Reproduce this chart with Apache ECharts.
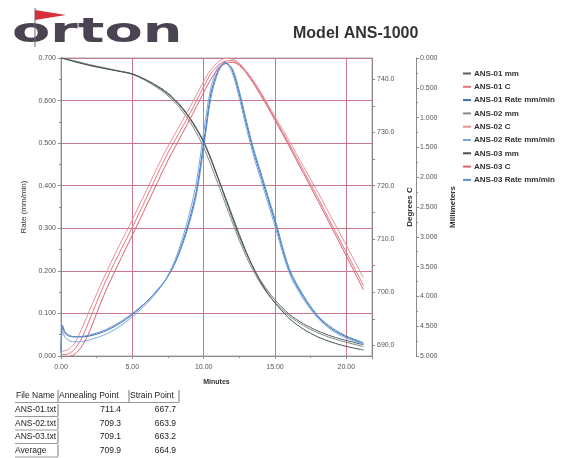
<!DOCTYPE html>
<html>
<head>
<meta charset="utf-8">
<title>Model ANS-1000</title>
<script src="https://cdn.jsdelivr.net/npm/echarts@6.0.0/dist/echarts.min.js"></script>
<style>
  html, body { margin: 0; padding: 0; background: #fff; }
  #chart { width: 569px; height: 458px; }
</style>
</head>
<body>
<div id="chart"></div>
<script>
    "use strict";

    // ---- data ----
    var minutes = [0, 0.1, 0.3, 0.6, 1, 1.5, 2, 3, 4, 5, 6, 7, 7.5, 8, 8.5, 9, 9.5, 10, 10.5, 11,
        11.5, 12, 12.5, 13, 13.5, 14, 14.5, 15, 16, 17, 18, 19, 20, 21, 21.2];

    // Rate (mm/min), left axis
    var rate01 = [0.010, 0.072, 0.056, 0.048, 0.045, 0.045, 0.047, 0.057, 0.074, 0.097, 0.127, 0.163, 0.188, 0.220, 0.265,
        0.320, 0.390, 0.500, 0.615, 0.670, 0.690, 0.672, 0.615, 0.545, 0.480, 0.425, 0.370, 0.315, 0.200, 0.138,
        0.092, 0.063, 0.045, 0.032, 0.029];
    var rate02 = [0.005, 0.057, 0.043, 0.036, 0.033, 0.034, 0.038, 0.049, 0.067, 0.092, 0.123, 0.162, 0.190, 0.226, 0.275,
        0.335, 0.410, 0.525, 0.630, 0.678, 0.688, 0.665, 0.605, 0.535, 0.470, 0.415, 0.360, 0.305, 0.195, 0.133,
        0.089, 0.060, 0.042, 0.030, 0.027];
    var rate03 = [0.008, 0.066, 0.052, 0.046, 0.045, 0.046, 0.049, 0.060, 0.077, 0.100, 0.128, 0.165, 0.187, 0.218, 0.260,
        0.312, 0.380, 0.488, 0.605, 0.665, 0.688, 0.676, 0.622, 0.552, 0.487, 0.432, 0.377, 0.322, 0.206, 0.142,
        0.095, 0.066, 0.047, 0.034, 0.031];

    // Degrees C, first right axis
    var temp01 = [688.3, 688.3, 688.3, 688.5, 689.4, 691.6, 694.8, 701.3, 706.9, 712.2, 717.8, 723.5, 726.2, 728.6, 731.0,
        733.4, 736.0, 738.6, 741.0, 742.6, 743.4, 743.5, 742.8, 741.3, 739.5, 737.3, 735.0, 732.6, 727.8, 722.8,
        717.8, 712.6, 707.5, 702.3, 701.2];
    var temp02 = [688.9, 688.9, 689.0, 689.4, 690.6, 693.4, 696.6, 702.7, 708.3, 713.6, 719.2, 724.8, 727.4, 729.8, 732.2,
        734.6, 737.1, 739.6, 741.8, 743.2, 743.9, 743.8, 743.0, 741.5, 739.7, 737.6, 735.3, 733.0, 728.4, 723.6,
        718.8, 713.8, 708.8, 703.7, 702.7];
    var temp03 = [687.8, 687.8, 687.8, 687.9, 688.4, 690.0, 692.6, 699.4, 705.2, 710.7, 716.3, 722.0, 724.8, 727.3, 729.8,
        732.3, 734.9, 737.5, 740.0, 741.9, 742.9, 743.2, 742.6, 741.1, 739.2, 737.0, 734.7, 732.3, 727.4, 722.3,
        717.2, 712.0, 706.8, 701.5, 700.4];

    // Millimeters, second right axis (inverted)
    var mm01 = [0, 0.005, 0.015, 0.035, 0.06, 0.09, 0.12, 0.17, 0.215, 0.265, 0.375, 0.52, 0.61, 0.72, 0.85,
        1.01, 1.20, 1.42, 1.70, 2.02, 2.35, 2.68, 3.00, 3.28, 3.53, 3.74, 3.91, 4.06, 4.30, 4.46,
        4.58, 4.67, 4.74, 4.80, 4.81];
    var mm02 = [0, 0.004, 0.012, 0.03, 0.05, 0.08, 0.11, 0.16, 0.215, 0.275, 0.39, 0.54, 0.635, 0.75, 0.89,
        1.06, 1.26, 1.50, 1.79, 2.11, 2.43, 2.75, 3.06, 3.34, 3.58, 3.79, 3.96, 4.10, 4.33, 4.49,
        4.61, 4.70, 4.77, 4.83, 4.84];
    var mm03 = [0, 0.006, 0.018, 0.038, 0.065, 0.095, 0.125, 0.175, 0.22, 0.27, 0.37, 0.505, 0.59, 0.70, 0.83,
        0.99, 1.18, 1.40, 1.68, 2.00, 2.32, 2.64, 2.96, 3.26, 3.53, 3.76, 3.95, 4.11, 4.37, 4.55,
        4.68, 4.77, 4.84, 4.89, 4.90];

    var tempLabels = [690, 700, 710, 720, 730, 740];
    var tempTicks = [690, 695, 700, 705, 710, 715, 720, 725, 730, 735, 740];

    // results table
    var tableHeaders = ['File Name', 'Annealing Point', 'Strain Point'];
    var fileNames = ['ANS-01.txt', 'ANS-02.txt', 'ANS-03.txt', 'Average'];
    var annealingPoints = ['711.4', '709.3', '709.1', '709.9'];
    var strainPoints = ['667.7', '663.9', '663.2', '664.9'];

    // ---- helpers ----
    function pairs(values) {
        return minutes.map(function (t, i) { return [t, values[i]]; });
    }

    function lineSeries(name, values, axis, color) {
        return {
            name: name,
            type: 'line',
            yAxisIndex: axis,
            data: pairs(values),
            showSymbol: false,
            smooth: 0.3,
            color: color,
            lineStyle: { width: 1, color: color },
            emphasis: { disabled: true },
            z: 3
        };
    }

    var FONT = 'Liberation Sans';
    var gridColor = '#c9788f';
    var axisColor = '#8a8a8a';
    var cellFont = '8.5px "Liberation Sans"';

    // logo + table drawn as graphic elements
    var graphics = [
        {
            type: 'text', x: 12, y: 50, scaleX: 1.64,
            style: { text: 'orton', font: 'bold 34px "DejaVu Sans"', fill: '#4a4452', verticalAlign: 'bottom' }
        },
        { type: 'line', shape: { x1: 35, y1: 8, x2: 35, y2: 47 }, style: { stroke: '#6a6570', lineWidth: 1 } },
        { type: 'polygon', shape: { points: [[35, 10], [66, 15], [35, 20]] }, style: { fill: '#d8303a' } }
    ];

    var colLeft = [15, 58, 129, 179];
    var rowY = [396, 410, 423.5, 437, 450.5];
    tableHeaders.forEach(function (h, c) {
        graphics.push({
            type: 'text', x: colLeft[c] + 1, y: rowY[0],
            style: { text: h, font: cellFont, fill: '#222', verticalAlign: 'middle' }
        });
        graphics.push({ type: 'line', shape: { x1: colLeft[c + 1], y1: rowY[0] - 6, x2: colLeft[c + 1], y2: rowY[0] + 6 },
            style: { stroke: '#777', lineWidth: 1 } });
    });
    graphics.push({ type: 'line', shape: { x1: 15, y1: rowY[0] + 6.5, x2: 179, y2: rowY[0] + 6.5 }, style: { stroke: '#999', lineWidth: 1 } });
    fileNames.forEach(function (f, r) {
        var y = rowY[r + 1];
        graphics.push({ type: 'text', x: 15, y: y,
            style: { text: f, font: cellFont, fill: '#222', verticalAlign: 'middle' } });
        graphics.push({ type: 'text', x: 121, y: y,
            style: { text: annealingPoints[r], font: cellFont, fill: '#222', align: 'right', verticalAlign: 'middle' } });
        graphics.push({ type: 'text', x: 176, y: y,
            style: { text: strainPoints[r], font: cellFont, fill: '#222', align: 'right', verticalAlign: 'middle' } });
        graphics.push({ type: 'line', shape: { x1: 15, y1: y + 6.5, x2: 58, y2: y + 6.5 }, style: { stroke: '#999', lineWidth: 1 } });
        graphics.push({ type: 'line', shape: { x1: 58, y1: y - 6, x2: 58, y2: y + 6 }, style: { stroke: '#777', lineWidth: 1 } });
    });

    var chart = echarts.init(document.getElementById('chart'));

    var option = {
        animation: false,
        backgroundColor: '#fff',
        textStyle: { fontFamily: FONT },
        title: {
            text: 'Model ANS-1000',
            left: 288, top: 21,
            textStyle: { fontSize: 16, fontWeight: 'bold', color: '#333', fontFamily: FONT }
        },
        graphic: graphics,
        legend: {
            orient: 'vertical',
            left: 458, top: 64,
            itemWidth: 8, itemHeight: 2, itemGap: 4.3,
            icon: 'rect',
            selectedMode: false,
            textStyle: { fontSize: 8, fontWeight: 'bold', color: '#333', lineHeight: 9, padding: [0, 0, 0, -2] },
            data: ['ANS-01 mm', 'ANS-01 C', 'ANS-01 Rate mm/min', 'ANS-02 mm', 'ANS-02 C', 'ANS-02 Rate mm/min',
                'ANS-03 mm', 'ANS-03 C', 'ANS-03 Rate mm/min']
        },
        grid: { left: 61, right: 197, top: 58, bottom: 102, show: true, borderColor: '#aaa', borderWidth: 1 },
        xAxis: {
            type: 'value',
            min: 0, max: 21.8, interval: 5,
            name: 'Minutes', nameLocation: 'middle', nameGap: 23,
            nameTextStyle: { fontSize: 7, fontWeight: 'bold', color: '#333' },
            axisLine: { lineStyle: { color: axisColor } },
            axisTick: { length: 3, lineStyle: { color: axisColor } },
            minorTick: { show: true, splitNumber: 2, length: 2, lineStyle: { color: axisColor } },
            axisLabel: { fontSize: 7, color: '#555', margin: 8, showMaxLabel: false, formatter: function (v) { return v.toFixed(2); } },
            splitLine: { show: true, lineStyle: { color: gridColor, width: 1 } }
        },
        yAxis: [
            {
                type: 'value', position: 'left',
                min: 0, max: 0.7, interval: 0.1,
                name: 'Rate (mm/min)', nameLocation: 'middle', nameGap: 24,
                nameTextStyle: { fontSize: 8, color: '#333' },
                axisLine: { show: true, lineStyle: { color: axisColor } },
                axisTick: { show: true, length: 3, lineStyle: { color: axisColor } },
                minorTick: { show: true, splitNumber: 2, length: 2, lineStyle: { color: axisColor } },
                axisLabel: { fontSize: 7, color: '#555', margin: 5, formatter: function (v) { return v.toFixed(3); } },
                splitLine: { show: true, lineStyle: { color: gridColor, width: 1 } }
            },
            {
                type: 'value', position: 'right', offset: 0,
                min: 688, max: 744, interval: 2,
                name: 'Degrees C', nameLocation: 'middle', nameGap: 25,
                nameTextStyle: { fontSize: 8, fontWeight: 'bold', color: '#333' },
                axisLine: { show: true, lineStyle: { color: axisColor } },
                axisTick: { show: true, length: 3, customValues: tempTicks, lineStyle: { color: axisColor } },
                axisLabel: { fontSize: 7, color: '#555', margin: 5, customValues: tempLabels,
                    formatter: function (v) { return Number(v).toFixed(1); } },
                splitLine: { show: false }
            },
            {
                type: 'value', position: 'right', offset: 44,
                min: 0, max: 5, interval: 0.5, inverse: true,
                name: 'Millimeters', nameLocation: 'middle', nameGap: 27,
                nameTextStyle: { fontSize: 8, fontWeight: 'bold', color: '#333' },
                axisLine: { show: true, lineStyle: { color: axisColor } },
                axisTick: { show: true, length: 3, lineStyle: { color: axisColor } },
                minorTick: { show: true, splitNumber: 2, length: 2, lineStyle: { color: axisColor } },
                axisLabel: { fontSize: 7, color: '#555', margin: 4, formatter: function (v) { return v.toFixed(3); } },
                splitLine: { show: false }
            }
        ],
        series: [
            lineSeries('ANS-01 mm', mm01, 2, '#56635e'),
            lineSeries('ANS-01 C', temp01, 1, '#e07483'),
            lineSeries('ANS-01 Rate mm/min', rate01, 0, '#3e6fb6'),
            lineSeries('ANS-02 mm', mm02, 2, '#7d8b85'),
            lineSeries('ANS-02 C', temp02, 1, '#e98f9a'),
            lineSeries('ANS-02 Rate mm/min', rate02, 0, '#7aaadd'),
            lineSeries('ANS-03 mm', mm03, 2, '#46514d'),
            lineSeries('ANS-03 C', temp03, 1, '#d9606f'),
            lineSeries('ANS-03 Rate mm/min', rate03, 0, '#5b8fcf')
        ]
    };

    chart.setOption(option);
</script>
</body>
</html>
